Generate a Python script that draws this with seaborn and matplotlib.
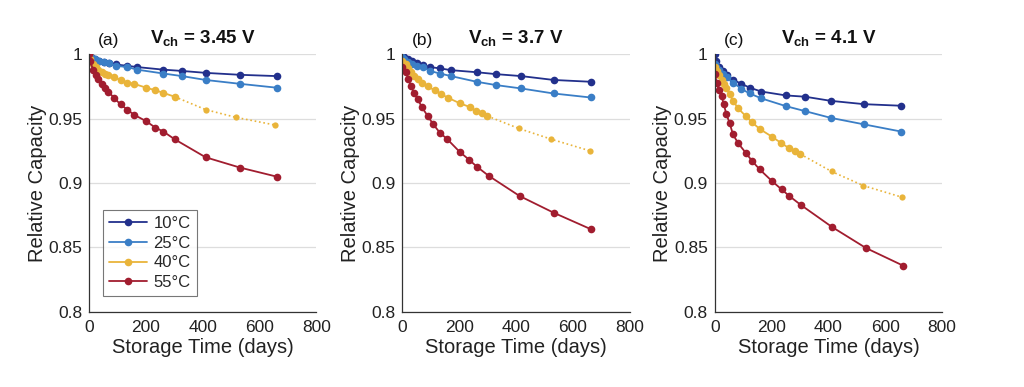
import pandas as pd
import seaborn as sns
import matplotlib.pyplot as plt

sns.set_theme(style="white")
plt.rcParams['font.family'] = ['Liberation Sans', 'DejaVu Sans']
plt.rcParams['mathtext.fontset'] = 'custom'
plt.rcParams['mathtext.bf'] = 'Liberation Sans:bold'
plt.rcParams['mathtext.rm'] = 'Liberation Sans'

temps = ['10°C', '25°C', '40°C', '55°C']
colors = ['#22308C', '#3A7EC6', '#E9B43A', '#A11D2F']
panel_tags = ['(a)', '(b)', '(c)']
voltages = ['3.45', '3.7', '4.1']

# (a) Vch = 3.45 V
a_days_cold = [0, 7, 21, 35, 52, 70, 94, 134, 169, 261, 327, 410, 531, 660]
a_10 = [1.000, 0.998, 0.996, 0.995, 0.994, 0.993, 0.992, 0.991, 0.990,
        0.988, 0.987, 0.9855, 0.984, 0.983]
a_25 = [1.000, 0.998, 0.996, 0.995, 0.994, 0.993, 0.991, 0.990, 0.988,
        0.985, 0.983, 0.980, 0.977, 0.974]
a_days_hot = [0, 3, 14, 24, 33, 44, 55, 68, 88, 111, 134, 158, 201, 233,
              261, 301]
a_40 = [1.000, 0.996, 0.992, 0.990, 0.988, 0.986, 0.985, 0.984, 0.982,
        0.980, 0.978, 0.977, 0.974, 0.972, 0.970, 0.967]
a_days_40_late = [301, 410, 516, 655]
a_40_late = [0.967, 0.957, 0.951, 0.945]
a_days_55 = [0, 3, 14, 24, 33, 44, 55, 68, 88, 111, 134, 158, 201, 233,
             261, 301, 410, 531, 660]
a_55 = [1.000, 0.995, 0.988, 0.984, 0.981, 0.977, 0.974, 0.971, 0.966,
        0.961, 0.957, 0.953, 0.948, 0.943, 0.940, 0.934, 0.920, 0.912, 0.905]

# (b) Vch = 3.7 V
b_days_cold = [0, 7, 21, 35, 52, 73, 96, 132, 171, 261, 330, 418, 532, 662]
b_10 = [1.000, 0.998, 0.996, 0.995, 0.993, 0.9915, 0.990, 0.989, 0.9876,
        0.986, 0.9845, 0.983, 0.980, 0.9786]
b_25 = [0.998, 0.996, 0.994, 0.992, 0.991, 0.990, 0.987, 0.985, 0.983,
        0.9786, 0.976, 0.9734, 0.9695, 0.9664]
b_days_hot = [0, 12, 21, 30, 42, 54, 69, 89, 113, 136, 162, 201, 237, 258,
              280, 299]
b_40 = [0.995, 0.992, 0.989, 0.986, 0.983, 0.981, 0.978, 0.975, 0.972,
        0.969, 0.966, 0.962, 0.959, 0.956, 0.954, 0.952]
b_days_40_late = [299, 409, 524, 660]
b_40_late = [0.952, 0.9424, 0.934, 0.925]
b_days_55 = [0, 12, 21, 30, 42, 54, 69, 89, 108, 132, 158, 201, 235, 262,
             303, 412, 532, 662]
b_55 = [0.990, 0.986, 0.9806, 0.975, 0.9695, 0.965, 0.9587, 0.952, 0.9457,
        0.939, 0.934, 0.9243, 0.918, 0.9127, 0.9057, 0.890, 0.877, 0.8643]

# (c) Vch = 4.1 V
c_days_cold = [0, 4, 15, 30, 42, 65, 94, 123, 164, 250, 318, 408, 526, 655]
c_10 = [1.000, 0.9948, 0.990, 0.987, 0.9837, 0.980, 0.977, 0.974, 0.971,
        0.968, 0.967, 0.9638, 0.9612, 0.960]
c_25 = [0.992, 0.990, 0.988, 0.985, 0.982, 0.978, 0.973, 0.9695, 0.9657,
        0.9597, 0.9558, 0.9506, 0.9455, 0.940]
c_days_hot = [0, 7, 14, 24, 32, 41, 52, 64, 82, 109, 132, 158, 201, 234,
              262, 283, 301]
c_40 = [0.990, 0.987, 0.984, 0.980, 0.977, 0.974, 0.969, 0.964, 0.958,
        0.952, 0.947, 0.942, 0.936, 0.931, 0.927, 0.925, 0.9225]
c_days_40_late = [301, 411, 523, 659]
c_40_late = [0.9225, 0.909, 0.898, 0.889]
c_days_55 = [0, 7, 14, 24, 32, 41, 52, 64, 82, 109, 132, 158, 201, 235,
             262, 303, 412, 532, 662]
c_55 = [0.985, 0.978, 0.972, 0.9674, 0.961, 0.9533, 0.9468, 0.9378, 0.931,
        0.9235, 0.917, 0.9106, 0.9016, 0.8951, 0.890, 0.883, 0.866, 0.8496,
        0.836]

panels = [
    (a_days_cold, a_10, a_25, a_days_hot, a_40, a_days_40_late, a_40_late,
     a_days_55, a_55),
    (b_days_cold, b_10, b_25, b_days_hot, b_40, b_days_40_late, b_40_late,
     b_days_55, b_55),
    (c_days_cold, c_10, c_25, c_days_hot, c_40, c_days_40_late, c_40_late,
     c_days_55, c_55),
]

fig = plt.figure(figsize=(10.24, 3.87), dpi=100)
lefts = [0.087, 0.393, 0.698]

for i, p in enumerate(panels):
    dc, v10, v25, dh, v40, dl, v40l, d55, v55 = p
    ax = fig.add_axes([lefts[i], 0.194, 0.222, 0.666])
    ax.grid(axis='y', color='#dddddd', linewidth=0.9)
    ax.set_axisbelow(True)

    sns.lineplot(x=dc, y=v10, ax=ax, color=colors[0], marker='o',
                 markersize=5.5, markeredgewidth=0, linewidth=1.3,
                 sort=False, estimator=None, label=temps[0])
    sns.lineplot(x=dc, y=v25, ax=ax, color=colors[1], marker='o',
                 markersize=5.5, markeredgewidth=0, linewidth=1.3,
                 sort=False, estimator=None, label=temps[1])
    sns.lineplot(x=dh, y=v40, ax=ax, color=colors[2], marker='o',
                 markersize=5.5, markeredgewidth=0, linewidth=1.3,
                 sort=False, estimator=None, label=temps[2])
    sns.lineplot(x=dl, y=v40l, ax=ax, color=colors[2], marker='o',
                 markersize=4.5, markeredgewidth=0, linewidth=1.2,
                 linestyle=':', sort=False, estimator=None)
    sns.lineplot(x=d55, y=v55, ax=ax, color=colors[3], marker='o',
                 markersize=5.5, markeredgewidth=0, linewidth=1.3,
                 sort=False, estimator=None, label=temps[3])

    ax.set_xlim(0, 800)
    ax.set_ylim(0.8, 1.0)
    ax.set_xticks([0, 200, 400, 600, 800])
    ax.set_yticks([0.8, 0.85, 0.9, 0.95, 1.0])
    ax.set_yticklabels(['0.8', '0.85', '0.9', '0.95', '1'])
    ax.tick_params(direction='in', length=4, width=0.8, color='#333333',
                   labelsize=12.5, labelcolor='#222222', pad=5)
    ax.tick_params(axis='x', pad=6)
    for s in ['top', 'right']:
        ax.spines[s].set_visible(False)
    for s in ['left', 'bottom']:
        ax.spines[s].set_color('#333333')
        ax.spines[s].set_linewidth(0.9)
    ax.set_xlabel('Storage Time (days)', fontsize=14.5, color='#222222',
                  labelpad=2)
    ax.set_ylabel('Relative Capacity', fontsize=14.5, color='#222222',
                  labelpad=1)
    ax.set_title(r'$\mathbf{V_{ch}}$' + ' = ' + voltages[i] + ' V',
                 fontsize=13.5, fontweight='bold', pad=8, color='#111111')
    ax.text(0.04, 1.025, panel_tags[i], transform=ax.transAxes,
            fontsize=12.5, color='#111111', va='bottom')

    if i == 0:
        leg = ax.legend(loc='lower left', bbox_to_anchor=(0.06, 0.062),
                        borderaxespad=0, fontsize=12, frameon=True,
                        fancybox=False, handlelength=2.3, borderpad=0.35,
                        labelspacing=0.28, handletextpad=0.4)
        leg.get_frame().set_edgecolor('#555555')
        leg.get_frame().set_linewidth(0.8)
    else:
        ax.get_legend().remove()

plt.savefig('out.png', dpi=100)
